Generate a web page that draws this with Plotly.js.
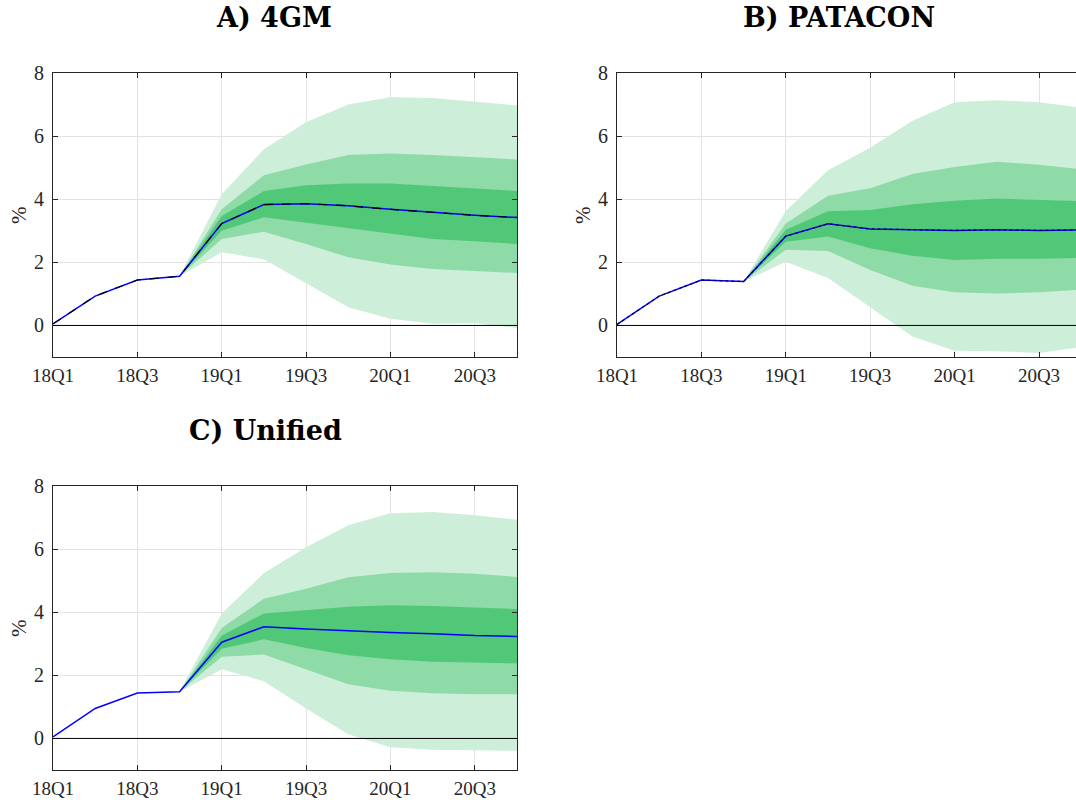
<!DOCTYPE html>
<html>
<head>
<meta charset="utf-8">
<script src="https://cdn.plot.ly/plotly-3.0.1.min.js"></script>
<style>html,body{margin:0;padding:0;background:#fff;}#chart{width:1076px;height:800px;}</style>
</head>
<body>
<div id="chart"></div>
<script>
// Quarters and tick labels
const quarters = ['18Q1','18Q2','18Q3','18Q4','19Q1','19Q2','19Q3','19Q4','20Q1','20Q2','20Q3','20Q4'];
const tickLabels = ['18Q1','18Q3','19Q1','19Q3','20Q1','20Q3'];
const bandQuarters = quarters.slice(3);

// Panel A) 4GM
const medA = [0.05,0.93,1.44,1.56,3.23,3.83,3.86,3.79,3.68,3.58,3.49,3.42];
const a90Up = [1.56,4.16,5.58,6.44,7.00,7.23,7.21,7.08,6.97];
const a90Lo = [1.56,2.32,2.10,1.35,0.58,0.21,0.05,0.07,-0.08];
const a60Up = [1.56,3.68,4.76,5.10,5.40,5.45,5.40,5.34,5.26];
const a60Lo = [1.56,2.74,2.97,2.58,2.16,1.93,1.79,1.72,1.66];
const a30Up = [1.56,3.47,4.26,4.44,4.50,4.50,4.42,4.34,4.26];
const a30Lo = [1.56,3.00,3.43,3.26,3.07,2.90,2.74,2.67,2.58];

// Panel B) PATACON
const medB = [0.03,0.93,1.44,1.39,2.83,3.22,3.06,3.03,3.01,3.03,3.01,3.03];
const b90Up = [1.39,3.63,4.92,5.63,6.49,7.07,7.14,7.07,6.90];
const b90Lo = [1.39,2.02,1.50,0.58,-0.35,-0.80,-0.82,-0.87,-0.68];
const b60Up = [1.39,3.23,4.11,4.35,4.80,5.02,5.19,5.09,4.95];
const b60Lo = [1.39,2.40,2.36,1.76,1.26,1.05,1.01,1.05,1.13];
const b30Up = [1.39,3.03,3.62,3.66,3.84,3.95,4.02,3.97,3.94];
const b30Lo = [1.39,2.65,2.82,2.45,2.21,2.07,2.11,2.11,2.14];

// Panel C) Unified
const medC = [0.05,0.95,1.44,1.48,3.05,3.54,3.47,3.41,3.36,3.32,3.26,3.23];
const c90Up = [1.48,3.96,5.24,6.06,6.76,7.14,7.18,7.07,6.93];
const c90Lo = [1.48,2.19,1.81,0.95,0.13,-0.28,-0.36,-0.38,-0.39];
const c60Up = [1.48,3.50,4.43,4.74,5.11,5.24,5.27,5.22,5.12];
const c60Lo = [1.48,2.59,2.66,2.19,1.72,1.51,1.43,1.40,1.40];
const c30Up = [1.48,3.26,3.96,4.06,4.17,4.22,4.20,4.15,4.10];
const c30Lo = [1.48,2.84,3.14,2.87,2.64,2.51,2.43,2.40,2.38];

const panelTitles = ['A) 4GM','B) PATACON','C) Unified'];

const colLight = '#cdeed8';
const colMid = '#8edba7';
const colDark = '#50c878';
const textCol = '#262626';
const serif = "'Liberation Serif', 'Times New Roman', Times, serif";

function bandTraces(up, lo, color, xa, ya) {
  return [
    {x: bandQuarters, y: lo, xaxis: xa, yaxis: ya, mode: 'lines', line: {width: 0, color: color}, hoverinfo: 'skip', showlegend: false},
    {x: bandQuarters, y: up, xaxis: xa, yaxis: ya, mode: 'lines', line: {width: 0, color: color}, fill: 'tonexty', fillcolor: color, hoverinfo: 'skip', showlegend: false}
  ];
}

let traces = [];
const panels = [
  {xa: 'x', ya: 'y', med: medA, b: [a90Up,a90Lo,a60Up,a60Lo,a30Up,a30Lo], overlay: {color: '#000000', dash: 'dash', width: 1.2}},
  {xa: 'x2', ya: 'y2', med: medB, b: [b90Up,b90Lo,b60Up,b60Lo,b30Up,b30Lo], overlay: {color: '#000040', dash: 'dot', width: 1.2}},
  {xa: 'x3', ya: 'y3', med: medC, b: [c90Up,c90Lo,c60Up,c60Lo,c30Up,c30Lo], overlay: null}
];
panels.forEach(p => {
  traces = traces.concat(bandTraces(p.b[0], p.b[1], colLight, p.xa, p.ya));
  traces = traces.concat(bandTraces(p.b[2], p.b[3], colMid, p.xa, p.ya));
  traces = traces.concat(bandTraces(p.b[4], p.b[5], colDark, p.xa, p.ya));
  traces.push({x: quarters, y: p.med, xaxis: p.xa, yaxis: p.ya, mode: 'lines', line: {color: '#0000ff', width: 1.5}, showlegend: false});
  if (p.overlay) {
    traces.push({x: quarters, y: p.med, xaxis: p.xa, yaxis: p.ya, mode: 'lines', line: p.overlay, showlegend: false});
  }
});

const W = 1076, H = 800;
function xdom(l, r) { return [l / W, Math.min(r / W, 1)]; }
function ydom(t, b) { return [1 - b / H, 1 - t / H]; }

function xaxis(dom, anchor, range, mirror) {
  return {
    domain: dom, anchor: anchor, type: 'category', range: range,
    categoryorder: 'array', categoryarray: quarters,
    tickmode: 'array', tickvals: tickLabels, ticktext: tickLabels,
    ticks: 'inside', ticklen: 5, tickcolor: textCol, tickwidth: 1,
    showline: true, linecolor: textCol, linewidth: 1, mirror: mirror,
    showgrid: true, gridcolor: '#e3e3e3', gridwidth: 1, zeroline: false,
    tickfont: {family: serif, size: 19, color: textCol},
    ticklabelstandoff: 1, fixedrange: true
  };
}
function yaxis(dom, anchor, mirror) {
  return {
    domain: dom, anchor: anchor, range: [-1, 8],
    tickmode: 'array', tickvals: [0,2,4,6,8],
    ticks: 'inside', ticklen: 5, tickcolor: textCol, tickwidth: 1,
    showline: true, linecolor: textCol, linewidth: 1, mirror: mirror,
    showgrid: true, gridcolor: '#e3e3e3', gridwidth: 1, zeroline: false,
    tickfont: {family: serif, size: 20, color: textCol},
    ticklabelstandoff: 4, fixedrange: true
  };
}

const layout = {
  width: W, height: H,
  margin: {l: 0, r: 0, t: 0, b: 0, pad: 0},
  paper_bgcolor: '#ffffff', plot_bgcolor: '#ffffff',
  showlegend: false,
  font: {family: serif, color: textCol},
  xaxis: xaxis(xdom(53, 517), 'y', [0, 11], 'allticks'),
  yaxis: yaxis(ydom(73, 357), 'x', 'allticks'),
  xaxis2: xaxis(xdom(617, 1076), 'y2', [0, (1076 - 617) / 42.2], 'allticks'),
  yaxis2: yaxis(ydom(73, 357), 'x2', false),
  xaxis3: xaxis(xdom(53, 517), 'y3', [0, 11], 'allticks'),
  yaxis3: yaxis(ydom(486, 770), 'x3', 'allticks'),
  shapes: [
    {type: 'line', xref: 'x domain', yref: 'y', x0: 0, x1: 1, y0: 0, y1: 0, line: {color: '#000000', width: 1}, layer: 'above'},
    {type: 'line', xref: 'x2 domain', yref: 'y2', x0: 0, x1: 1, y0: 0, y1: 0, line: {color: '#000000', width: 1}, layer: 'above'},
    {type: 'line', xref: 'x3 domain', yref: 'y3', x0: 0, x1: 1, y0: 0, y1: 0, line: {color: '#000000', width: 1}, layer: 'above'}
  ],
  annotations: [
    {text: '<b>' + panelTitles[0] + '</b>', xref: 'paper', yref: 'paper', x: 274 / W, y: 1 - 18 / H, xanchor: 'center', yanchor: 'middle', showarrow: false, font: {family: 'DejaVu Serif, serif', size: 27, color: '#000000'}},
    {text: '<b>' + panelTitles[1] + '</b>', xref: 'paper', yref: 'paper', x: 839 / W, y: 1 - 18 / H, xanchor: 'center', yanchor: 'middle', showarrow: false, font: {family: 'DejaVu Serif, serif', size: 27, color: '#000000'}},
    {text: '<b>' + panelTitles[2] + '</b>', xref: 'paper', yref: 'paper', x: 265 / W, y: 1 - 431 / H, xanchor: 'center', yanchor: 'middle', showarrow: false, font: {family: 'DejaVu Serif, serif', size: 27, color: '#000000'}},
    {text: '%', xref: 'paper', yref: 'paper', x: 19 / W, y: 1 - 215 / H, textangle: -90, xanchor: 'center', yanchor: 'middle', showarrow: false, font: {family: serif, size: 21, color: textCol}},
    {text: '%', xref: 'paper', yref: 'paper', x: 583 / W, y: 1 - 215 / H, textangle: -90, xanchor: 'center', yanchor: 'middle', showarrow: false, font: {family: serif, size: 21, color: textCol}},
    {text: '%', xref: 'paper', yref: 'paper', x: 19 / W, y: 1 - 628 / H, textangle: -90, xanchor: 'center', yanchor: 'middle', showarrow: false, font: {family: serif, size: 21, color: textCol}}
  ]
};

Plotly.newPlot('chart', traces, layout, {staticPlot: true, displayModeBar: false});
</script>
</body>
</html>
